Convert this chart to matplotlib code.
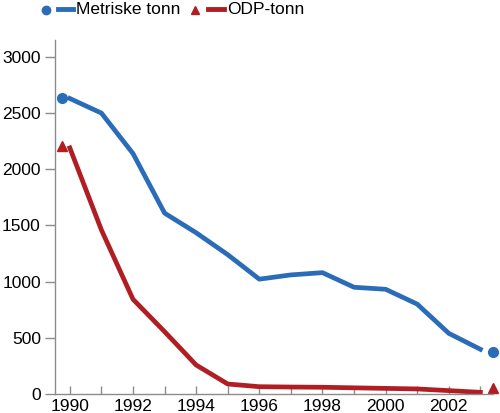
import matplotlib.pyplot as plt
from matplotlib.lines import Line2D

plt.rcParams['font.family'] = ['Liberation Sans', 'DejaVu Sans']

years = [1990, 1991, 1992, 1993, 1994, 1995, 1996, 1997, 1998, 1999, 2000, 2001, 2002, 2003]
metriske = [2630, 2500, 2140, 1610, 1435, 1240, 1022, 1060, 1080, 950, 932, 800, 540, 398]
odp = [2190, 1460, 843, 555, 258, 89, 65, 62, 60, 55, 50, 45, 30, 15]

# the lone markers at each end of the series
start_x, end_x = 1989.75, 2003.4
metriske_ends = [2636, 370]
odp_ends = [2208, 50]

blue = "#2a6cb8"
red = "#b01e23"
grey = "#8c8c8c"
fs = 12.5

fig = plt.figure(figsize=(5, 4.13), dpi=100)
ax = fig.add_axes([0.11, 0.046, 0.876, 0.857])

ax.plot(years, metriske, color=blue, lw=3.4, solid_joinstyle="round")
ax.plot(years, odp, color=red, lw=3.4, solid_joinstyle="round")
ax.plot([start_x, end_x], metriske_ends, "o", color=blue, ms=7, clip_on=False)
ax.plot([start_x, end_x], odp_ends, "^", color=red, ms=7, clip_on=False)

ax.set_xlim(1989.53, 2003.4)
ax.set_ylim(0, 3150)
ax.set_xticks(years)
ax.set_xticklabels([str(y) if y % 2 == 0 else "" for y in years])
ax.set_yticks([0, 500, 1000, 1500, 2000, 2500, 3000])

for s in ["top", "right"]:
    ax.spines[s].set_visible(False)
for s in ["left", "bottom"]:
    ax.spines[s].set_color(grey)
    ax.spines[s].set_linewidth(1)

ax.tick_params(axis="x", direction="in", length=5.5, color=grey, width=1,
               labelsize=fs, pad=3.5)
ax.tick_params(axis="y", direction="out", length=7.2, color=grey, width=1,
               labelsize=fs, pad=3)

# legend drawn by hand: marker, dash, text
fig.add_artist(Line2D([46 / 500], [1 - 10 / 413], marker="o", color=blue, ms=6,
                      transform=fig.transFigure))
fig.add_artist(Line2D([58 / 500, 73 / 500], [1 - 9 / 413] * 2, color=blue, lw=3.5,
                      transform=fig.transFigure))
fig.text(76 / 500, 1 - 10 / 413, "Metriske tonn", fontsize=fs, va="center", ha="left")
fig.add_artist(Line2D([195 / 500], [1 - 10 / 413], marker="^", color=red, ms=6,
                      transform=fig.transFigure))
fig.add_artist(Line2D([208 / 500, 224 / 500], [1 - 9 / 413] * 2, color=red, lw=3.5,
                      transform=fig.transFigure))
fig.text(227 / 500, 1 - 10 / 413, "ODP-tonn", fontsize=fs, va="center", ha="left")

fig.savefig("out.png", dpi=100)
